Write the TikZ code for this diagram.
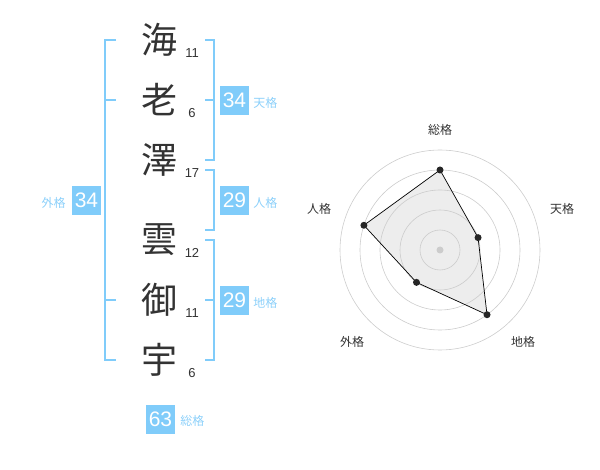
\documentclass[tikz,border=0pt]{standalone}
\usepackage{fontspec}
\setmainfont{Liberation Sans}
\newfontfamily\cjk{Noto Sans CJK JP}
\definecolor{ink}{RGB}{51,51,51}
\definecolor{sky}{RGB}{128,204,250}
\definecolor{skytext}{RGB}{140,208,250}
\definecolor{ring}{RGB}{204,204,204}
\usetikzlibrary{positioning}
\usetikzlibrary{calc}

\begin{document}
\begin{tikzpicture}[x=1pt, y=1pt,
  kanji/.style={inner sep=0pt, text=ink, font=\cjk\fontsize{36}{36}\selectfont},
  strokes/.style={inner sep=0pt, text=ink, font=\fontsize{13}{13}\selectfont},
  badge/.style={fill=sky, text=white, minimum size=29pt, inner sep=0pt, font=\fontsize{21}{21}\selectfont},
  kaku/.style={inner sep=0pt, text=skytext, yshift=-2pt, font=\cjk\fontsize{12}{12}\selectfont},
  bracket/.style={draw=sky, line width=2pt},
  dot/.style={circle, fill=black!85, minimum size=7pt, inner sep=0pt},
  axis/.style={inner sep=0pt, text=ink, font=\cjk\fontsize{12}{12}\selectfont}]
\useasboundingbox (0,0) rectangle (600,-470);
% name
\node (k1) [kanji] at (159,-40) {海};
\node (k2) [kanji] at (159,-100) {老};
\node (k3) [kanji] at (159,-160) {澤};
\node (k4) [kanji] at (159,-240) {雲};
\node (k5) [kanji] at (159,-300) {御};
\node (k6) [kanji] at (159,-360) {宇};
\node (s1) [strokes] at (192,-53) {11};
\node (s2) [strokes] at (192,-113) {6};
\node (s3) [strokes] at (192,-173) {17};
\node (s4) [strokes] at (192,-253) {12};
\node (s5) [strokes] at (192,-313) {11};
\node (s6) [strokes] at (192,-373) {6};
% brackets
\draw [bracket] (116,-40) -- (105,-40) -- (105,-360) -- (116,-360);
\draw [bracket] (105,-100) -- (116,-100);
\draw [bracket] (105,-300) -- (116,-300);
\draw [bracket] (205,-40) -- (214,-40) -- (214,-160) -- (205,-160);
\draw [bracket] (214,-100) -- (205,-100);
\draw [bracket] (205,-170) -- (214,-170) -- (214,-230) -- (205,-230);
\draw [bracket] (205,-240) -- (214,-240) -- (214,-360) -- (205,-360);
\draw [bracket] (214,-300) -- (205,-300);
% scores
\node (ten) [badge] at (234.5,-100.5) {34};
\node (jin) [badge] at (234.5,-200.5) {29};
\node (chi) [badge] at (234.5,-300.5) {29};
\node (gai) [badge] at (86.5,-200.5) {34};
\node (sou) [badge] at (160.5,-419) {63};
\node (tenl) [kaku, right=4pt of ten] {天格};
\node (jinl) [kaku, right=4pt of jin] {人格};
\node (chil) [kaku, right=4pt of chi] {地格};
\node (gail) [kaku, left=6pt of gai] {外格};
\node (soul) [kaku, right=5pt of sou] {総格};
% radar
\coordinate (o) at (440,-250);
\coordinate (c1) at ($(o)+(90:80)$);
\coordinate (c2) at ($(o)+(18:40)$);
\coordinate (c3) at ($(o)+(-54:80)$);
\coordinate (c4) at ($(o)+(234:40)$);
\coordinate (c5) at ($(o)+(162:80)$);
\fill [black!7] (c1) -- (c2) -- (c3) -- (c4) -- (c5) -- cycle;
\foreach \r in {20,40,...,100}
  \draw [ring, line width=0.6pt] (o) circle (\r);
\fill [ring] (o) circle (3.5);
\draw [black, line width=0.7pt] (c1) -- (c2) -- (c3) -- (c4) -- (c5) -- cycle;
\foreach \i in {1,...,5}
  \node (d\i) [dot] at (c\i) {};
\node (a1) [axis] at (440,-130) {総格};
\node (a2) [axis] at (562,-209) {天格};
\node (a3) [axis] at (523,-342) {地格};
\node (a4) [axis] at (352,-342) {外格};
\node (a5) [axis] at (319,-209) {人格};
\end{tikzpicture}
\end{document}
